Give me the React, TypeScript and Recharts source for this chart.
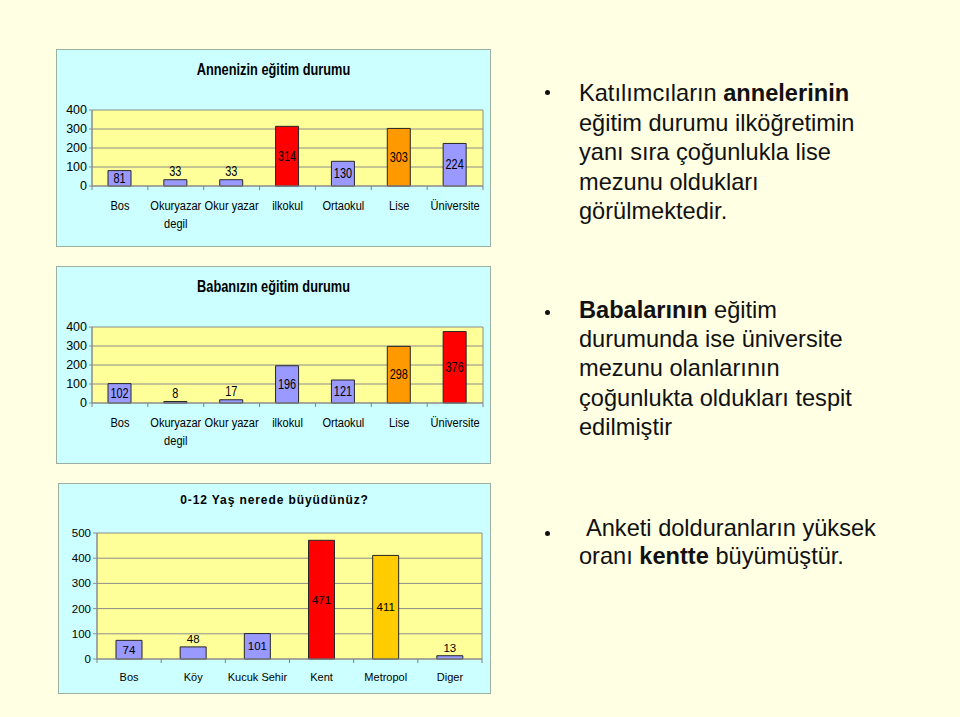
import { Bar, BarChart, CartesianGrid, Cell, LabelList, XAxis, YAxis } from "recharts"

const educationCategories = ["Bos", "Okuryazar\ndegil", "Okur yazar", "ilkokul", "Ortaokul", "Lise", "Üniversite"]
const motherValues = [81, 33, 33, 314, 130, 303, 224]
const fatherValues = [102, 8, 17, 196, 121, 298, 376]
const educationTicks = [0, 100, 200, 300, 400]

const childhoodCategories = ["Bos", "Köy", "Kucuk Sehir", "Kent", "Metropol", "Diger"]
const childhoodValues = [74, 48, 101, 471, 411, 13]
const childhoodTicks = [0, 100, 200, 300, 400, 500]

const BLUE = "#9999FF"
const RED = "#FF0000"
const ORANGE = "#FF9900"
const GOLD = "#FFCC00"

const motherHighlight: Record<string, string> = { ilkokul: RED, Lise: ORANGE }
const fatherHighlight: Record<string, string> = { Lise: ORANGE, "Üniversite": RED }
const childhoodHighlight: Record<string, string> = { Kent: RED, Metropol: GOLD }

const SANS = '"Liberation Sans", Arial, Helvetica, sans-serif'

interface Box {
  left: number
  top: number
  width: number
  height: number
}

interface ChartProps {
  title: string
  categories: string[]
  values: number[]
  highlight: Record<string, string>
  ticks: number[]
  box: Box
  margin: { top: number; right: number; bottom: number; left: number }
  yWidth: number
  xHeight: number
  barSize: number
  xFontSize: number
  xScale: number
  labelFontSize: number
  labelScale: number
  tickFontSize: number
  titleSize: number
  titleScale: number
  titleCenter: number
  titleSpacing?: number
  xLabelDy: number
  yTickSize: number
  yTickMargin: number
}

// squeezes Liberation Sans horizontally to stand in for Arial Narrow
function ScaledText({ x, y, scale, size, children }: { x: number; y: number; scale: number; size: number; children: any }) {
  return (
    <text
      transform={`translate(${x} ${y}) scale(${scale} 1)`}
      x={0}
      y={0}
      textAnchor="middle"
      dominantBaseline="central"
      fontFamily={SANS}
      fontSize={size}
      fill="#000"
    >
      {children}
    </text>
  )
}

function SmallChart(p: ChartProps) {
  const data = p.categories.map((name, i) => ({ name, value: p.values[i] }))
  const plotWidth = p.box.width - p.margin.left - p.margin.right - p.yWidth
  const band = plotWidth / p.categories.length

  const renderTick = (props: any) => {
    const { x, y, payload, index } = props
    const lines = String(payload.value).split("\n")
    return (
      <g>
        <line x1={x - band / 2} x2={x - band / 2} y1={y} y2={y + 4} stroke="#808080" />
        {index === p.categories.length - 1 && (
          <line x1={x + band / 2} x2={x + band / 2} y1={y} y2={y + 4} stroke="#808080" />
        )}
        {lines.map((line, i) => (
          <ScaledText key={i} x={x} y={y + p.xLabelDy + i * 18} scale={p.xScale} size={p.xFontSize}>
            {line}
          </ScaledText>
        ))}
      </g>
    )
  }

  const renderLabel = (props: any) => {
    const { x, y, width, height, value } = props
    const inside = height > 14
    return (
      <ScaledText
        x={x + width / 2}
        y={inside ? y + height / 2 : y - 8}
        scale={p.labelScale}
        size={p.labelFontSize}
      >
        {value}
      </ScaledText>
    )
  }

  return (
    <>
      <div
        style={{
          position: "absolute",
          left: p.box.left,
          top: p.box.top,
          width: p.box.width,
          height: p.box.height,
          boxSizing: "border-box",
          background: "#CCFFFF",
          border: "1px solid #9FAF9F",
        }}
      />
      <div
        style={{
          position: "absolute",
          left: p.box.left,
          top: p.box.top + p.titleCenter - 11,
          width: p.box.width,
          height: 22,
          lineHeight: "22px",
          textAlign: "center",
          fontFamily: SANS,
          fontWeight: "bold",
          fontSize: p.titleSize,
          letterSpacing: p.titleSpacing ?? 0,
          color: "#000",
          transform: `scaleX(${p.titleScale})`,
        }}
      >
        {p.title}
      </div>
      <div style={{ position: "absolute", left: p.box.left, top: p.box.top }}>
        <BarChart width={p.box.width} height={p.box.height} data={data} margin={p.margin}>
          <CartesianGrid
            fill="#FFFF99"
            stroke="#8C8C8C"
            verticalCoordinatesGenerator={({ offset }: any) => [offset.left, offset.left + offset.width]}
          />
          <XAxis
            dataKey="name"
            height={p.xHeight}
            interval={0}
            tickLine={false}
            tickSize={0}
            tickMargin={0}
            axisLine={{ stroke: "#8C8C8C" }}
            tick={renderTick}
          />
          <YAxis
            width={p.yWidth}
            domain={[p.ticks[0], p.ticks[p.ticks.length - 1]]}
            ticks={p.ticks}
            interval={0}
            tickSize={p.yTickSize}
            tickMargin={p.yTickMargin}
            axisLine={{ stroke: "#8C8C8C" }}
            tickLine={{ stroke: "#8C8C8C" }}
            tick={{ fontFamily: SANS, fontSize: p.tickFontSize, fill: "#000" }}
          />
          <Bar dataKey="value" barSize={p.barSize} stroke="#262626" strokeWidth={1} isAnimationActive={false}>
            {data.map((d) => (
              <Cell key={d.name} fill={p.highlight[d.name] ?? BLUE} />
            ))}
            <LabelList dataKey="value" content={renderLabel} />
          </Bar>
        </BarChart>
      </div>
    </>
  )
}

const bulletText: React.CSSProperties = {
  position: "absolute",
  left: 579,
  width: 370,
  fontFamily: SANS,
  fontSize: 23.6,
  color: "#111",
  whiteSpace: "nowrap",
}

function Bullet({ cy }: { cy: number }) {
  return (
    <div
      style={{
        position: "absolute",
        left: 545,
        top: cy - 2.5,
        width: 5,
        height: 5,
        borderRadius: "50%",
        background: "#111",
      }}
    />
  )
}

const educationProps = {
  categories: educationCategories,
  ticks: educationTicks,
  margin: { top: 61, right: 8, bottom: 0, left: 0 },
  yWidth: 36,
  xHeight: 61,
  barSize: 23,
  xFontSize: 13.5,
  xScale: 0.82,
  labelFontSize: 14,
  labelScale: 0.78,
  tickFontSize: 12.5,
  titleSize: 16,
  titleScale: 0.8,
  titleCenter: 21,
  xLabelDy: 20,
  yTickSize: 3,
  yTickMargin: 2,
}

export default function App() {
  return (
    <div
      style={{
        position: "absolute",
        left: 0,
        top: 0,
        width: 960,
        height: 717,
        background: "#FFFFE3",
        overflow: "hidden",
      }}
    >
      <SmallChart
        {...educationProps}
        title="Annenizin eğitim durumu"
        values={motherValues}
        highlight={motherHighlight}
        box={{ left: 56, top: 49, width: 435, height: 198 }}
      />
      <SmallChart
        {...educationProps}
        title="Babanızın eğitim durumu"
        values={fatherValues}
        highlight={fatherHighlight}
        box={{ left: 56, top: 266, width: 435, height: 198 }}
      />
      <SmallChart
        title="0-12 Yaş nerede büyüdünüz?"
        categories={childhoodCategories}
        values={childhoodValues}
        highlight={childhoodHighlight}
        ticks={childhoodTicks}
        box={{ left: 58, top: 483, width: 433, height: 211 }}
        margin={{ top: 50, right: 9, bottom: 0, left: 0 }}
        yWidth={39}
        xHeight={35}
        barSize={26}
        xFontSize={11}
        xScale={1}
        labelFontSize={11.5}
        labelScale={1}
        tickFontSize={11.5}
        titleSize={12}
        titleScale={1}
        titleCenter={17}
        titleSpacing={0.9}
        xLabelDy={18}
        yTickSize={4}
        yTickMargin={2}
      />

      <Bullet cy={92.5} />
      <div style={{ ...bulletText, top: 79, lineHeight: "29.5px" }}>
        Katılımcıların <b>annelerinin</b>
        <br />
        eğitim durumu ilköğretimin
        <br />
        yanı sıra çoğunlukla lise
        <br />
        mezunu oldukları
        <br />
        görülmektedir.
      </div>

      <Bullet cy={312.5} />
      <div style={{ ...bulletText, top: 296, lineHeight: "29.2px" }}>
        <b>Babalarının</b> eğitim
        <br />
        durumunda ise üniversite
        <br />
        mezunu olanlarının
        <br />
        çoğunlukta oldukları tespit
        <br />
        edilmiştir
      </div>

      <Bullet cy={533} />
      <div style={{ ...bulletText, top: 514, lineHeight: "28px" }}>
        <span style={{ marginLeft: 7 }}>Anketi dolduranların yüksek</span>
        <br />
        oranı <b>kentte</b> büyümüştür.
      </div>
    </div>
  )
}
